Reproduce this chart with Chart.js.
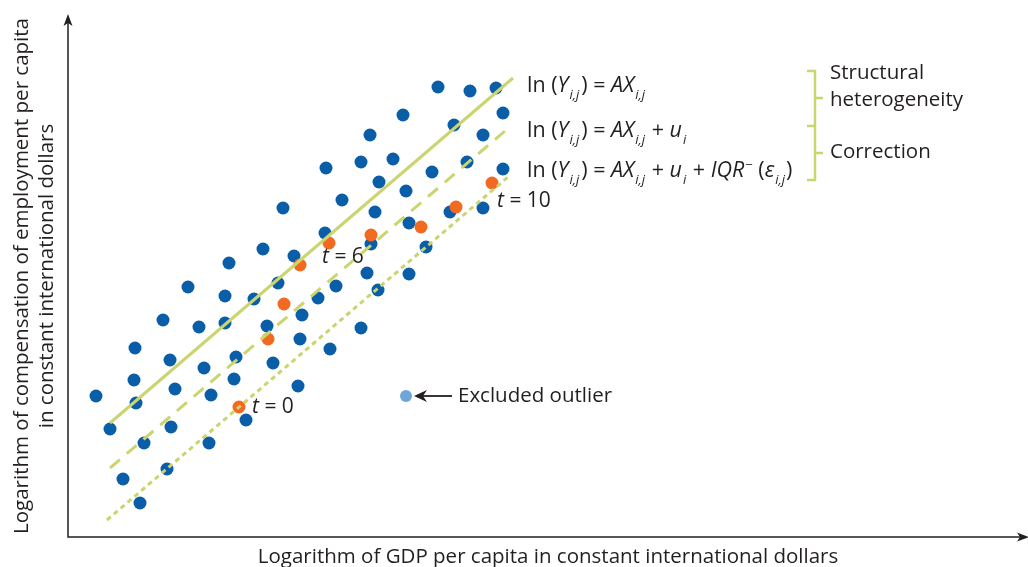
<!DOCTYPE html>
<html>
<head>
<meta charset="utf-8">
<script src="https://cdn.jsdelivr.net/npm/chart.js@4.4.1/dist/chart.umd.min.js"></script>
<style>
  html, body { margin: 0; padding: 0; background: #ffffff; }
  #wrap { width: 1028px; height: 567px; }
</style>
</head>
<body>
<div id="wrap"><canvas id="c" width="1028" height="567"></canvas></div>
<script>
// Country-year observations: log GDP per capita (x) vs log compensation of employment per capita (y)
const blueX = [2.8, 4.2, 5.5, 7.2, 6.7, 6.6, 6.8, 7.6, 9.9, 9.5, 10.2, 10.7, 10.3, 12.0, 13.1, 13.6, 14.3, 14.1,
  16.1, 15.7, 15.7, 16.8, 16.6, 17.8, 19.5, 18.6, 19.9, 20.5, 23.0, 21.5, 21.0, 22.6, 23.4, 25.0, 26.2, 25.8,
  25.7, 26.8, 27.4, 29.3, 29.3, 29.9, 30.2, 31.1, 30.7, 31.0, 32.5, 33.5, 33.8, 34.1, 35.8, 36.4, 37.0, 38.6,
  39.9, 40.2, 41.5, 41.5, 42.8, 43.5, 43.5, 30.3, 34.1, 38.2, 23.2];
const blueY = [14.1, 10.8, 5.8, 3.4, 18.9, 15.7, 13.4, 9.4, 6.8, 21.7, 17.7, 14.8, 11.0, 25.0, 21.0, 16.9, 14.2, 9.4,
  27.4, 24.1, 21.4, 18.0, 15.8, 11.7, 28.8, 23.8, 21.1, 17.4, 15.1, 32.9, 25.4, 28.1, 22.2, 23.9, 18.8, 36.9,
  30.4, 25.1, 33.7, 20.9, 37.5, 26.4, 40.2, 35.5, 32.5, 24.7, 37.8, 42.2, 34.6, 26.3, 29.0, 36.5, 45.0, 41.2,
  37.5, 44.6, 32.9, 40.2, 44.9, 42.4, 36.8, 29.3, 31.4, 32.5, 19.8];

// One economy followed over time (t = 0 ... t = 10)
const pathX = [17.1, 20.0, 21.6, 23.2, 26.1, 30.3, 35.3, 38.8, 42.4];
const pathY = [13.0, 19.8, 23.3, 27.2, 29.4, 30.2, 31.0, 33.0, 35.4];

// Observation left out of the estimation
const outlierX = [33.8];
const outlierY = [14.1];

// Fitted lines: start and end of each
const fitX = [4.2, 44.5];
const fitY = [11.4, 45.9];
const shiftX = [4.2, 43.7];
const shiftY = [6.9, 40.6];
const corrX = [3.9, 44.0];
const corrY = [1.7, 36.0];

// Text labels
const xTitle = 'Logarithm of GDP per capita in constant international dollars';
const yTitle = ['Logarithm of compensation of employment per capita', 'in constant international dollars'];
const timeLabels = ['t = 0', 't = 6', 't = 10'];
const bracketLabels = ['Structural', 'heterogeneity', 'Correction'];
const outlierLabel = 'Excluded outlier';

const pts = (xs, ys) => xs.map((x, i) => ({ x: x, y: ys[i] }));

const BLUE = '#0a5ea8';
const ORANGE = '#f26a21';
const LIGHT = '#6fa6da';
const GREEN = '#cbd56f';
const INK = '#231f20';
const FONT = '"Open Sans", "Noto Sans", sans-serif';
const TXT = 20.5;
const EQ = 21.5;

function font(size, italic) {
  return (italic ? 'italic ' : '') + size + 'px ' + FONT;
}

// Draw a run of text pieces with italics, subscripts and superscripts; y is the baseline
function drawRich(ctx, x, y, segs, size) {
  let cx = x;
  segs.forEach(s => {
    const sz = (s.sub || s.sup) ? Math.round(size * 0.6) : size;
    ctx.font = font(sz, s.i);
    let dy = 0;
    if (s.sub) dy = size * 0.34;
    if (s.sup) dy = -size * 0.38;
    cx += (s.pre || 0);
    ctx.fillText(s.t, cx, y + dy);
    cx += ctx.measureText(s.t).width + (s.gap || 0);
  });
}

const overlay = {
  id: 'overlay',
  afterDraw(chart) {
    const ctx = chart.ctx;
    const a = chart.chartArea;
    const xs = chart.scales.x, ys = chart.scales.y;
    const px = v => xs.getPixelForValue(v);
    const py = v => ys.getPixelForValue(v);
    ctx.save();

    // Axes with arrowheads
    ctx.strokeStyle = INK;
    ctx.fillStyle = INK;
    ctx.lineWidth = 1.5;
    ctx.beginPath();
    ctx.moveTo(a.left, a.top + 6);
    ctx.lineTo(a.left, a.bottom);
    ctx.lineTo(a.right - 4, a.bottom);
    ctx.stroke();
    ctx.beginPath();
    ctx.moveTo(a.left, a.top - 1);
    ctx.lineTo(a.left - 4.5, a.top + 11);
    ctx.lineTo(a.left, a.top + 8);
    ctx.lineTo(a.left + 4.5, a.top + 11);
    ctx.closePath();
    ctx.fill();
    ctx.beginPath();
    ctx.moveTo(a.right + 1, a.bottom);
    ctx.lineTo(a.right - 11, a.bottom - 4.5);
    ctx.lineTo(a.right - 8, a.bottom);
    ctx.lineTo(a.right - 11, a.bottom + 4.5);
    ctx.closePath();
    ctx.fill();

    // Axis titles
    ctx.fillStyle = INK;
    ctx.textBaseline = 'middle';
    ctx.textAlign = 'center';
    ctx.font = font(TXT);
    ctx.fillText(xTitle, 548, a.bottom + 20);
    ctx.save();
    ctx.translate(22, 276);
    ctx.rotate(-Math.PI / 2);
    ctx.fillText(yTitle[0], 0, 0);
    ctx.fillText(yTitle[1], 0, 25);
    ctx.restore();

    // Equations beside the line ends
    ctx.textAlign = 'left';
    ctx.textBaseline = 'alphabetic';
    const base = [
      { t: 'ln (' }, { t: 'Y', i: 1, gap: 1 }, { t: 'i,j', i: 1, sub: 1, gap: 2 }, { t: ') = ' },
      { t: 'AX', i: 1, gap: 1 }, { t: 'i,j', i: 1, sub: 1, gap: 1 }
    ];
    const eq2 = base.concat([{ t: ' + ' }, { t: 'u', i: 1, gap: 1 }, { t: 'i', i: 1, sub: 1, gap: 1 }]);
    const eq3 = eq2.concat([{ t: ' + ' }, { t: 'IQR', i: 1, gap: 1 }, { t: '\u2212', sup: 1 },
      { t: ' (' }, { t: '\u03b5', i: 1, gap: 1 }, { t: 'i,j', i: 1, sub: 1, gap: 1 }, { t: ')' }]);
    const eqX = px(fitX[1]) + 14;
    drawRich(ctx, eqX, 92, base, EQ);
    drawRich(ctx, eqX, 137, eq2, EQ);
    drawRich(ctx, eqX, 177, eq3, EQ);

    // Braces grouping the equations
    ctx.strokeStyle = GREEN;
    ctx.lineWidth = 2.5;
    ctx.beginPath();
    ctx.moveTo(807, 71); ctx.lineTo(815, 71); ctx.lineTo(815, 180); ctx.lineTo(807, 180);
    ctx.moveTo(807, 126); ctx.lineTo(815, 126);
    ctx.moveTo(815, 98); ctx.lineTo(823, 98);
    ctx.moveTo(815, 153); ctx.lineTo(823, 153);
    ctx.stroke();
    ctx.fillStyle = INK;
    ctx.textBaseline = 'middle';
    ctx.font = font(TXT);
    ctx.fillText(bracketLabels[0], 830, 73);
    ctx.fillText(bracketLabels[1], 830, 100);
    ctx.fillText(bracketLabels[2], 830, 152);

    // Time labels along the followed economy
    const tPos = [[18.4, 13.0], [25.4, 28.0], [42.9, 33.6]];
    timeLabels.forEach((lab, k) => {
      const parts = lab.split('t');
      let x0 = px(tPos[k][0]);
      const y0 = py(tPos[k][1]);
      ctx.font = font(21, true);
      ctx.fillText('t', x0, y0);
      x0 += ctx.measureText('t').width;
      ctx.font = font(21);
      ctx.fillText(parts[1], x0, y0);
    });

    // Outlier callout
    const ox = px(outlierX[0]) + 8, oy = py(outlierY[0]);
    ctx.strokeStyle = INK;
    ctx.fillStyle = INK;
    ctx.lineWidth = 1.8;
    ctx.beginPath();
    ctx.moveTo(ox + 8, oy); ctx.lineTo(ox + 38, oy);
    ctx.stroke();
    ctx.beginPath();
    ctx.moveTo(ox, oy);
    ctx.lineTo(ox + 13, oy - 6);
    ctx.lineTo(ox + 9, oy);
    ctx.lineTo(ox + 13, oy + 6);
    ctx.closePath();
    ctx.fill();
    ctx.font = font(TXT);
    ctx.fillText(outlierLabel, ox + 44, oy);

    ctx.restore();
  }
};

const lineDs = (xs, ys, dash) => ({
  type: 'line',
  data: pts(xs, ys),
  borderColor: GREEN,
  borderWidth: 3,
  borderDash: dash,
  pointRadius: 0,
  fill: false,
  order: 0
});

new Chart(document.getElementById('c'), {
  type: 'scatter',
  data: {
    datasets: [
      lineDs(fitX, fitY, []),
      lineDs(shiftX, shiftY, [13, 9]),
      lineDs(corrX, corrY, [5, 4]),
      { data: pts(pathX, pathY), backgroundColor: ORANGE, pointRadius: 6.5, pointBorderWidth: 0, order: 1 },
      { data: pts(outlierX, outlierY), backgroundColor: LIGHT, pointRadius: 6, pointBorderWidth: 0, order: 1 },
      { data: pts(blueX, blueY), backgroundColor: BLUE, pointRadius: 6.5, pointBorderWidth: 0, order: 2 }
    ]
  },
  options: {
    responsive: false,
    devicePixelRatio: 1,
    animation: false,
    layout: { autoPadding: false, padding: { left: 68, right: 0, top: 15, bottom: 30 } },
    plugins: { legend: { display: false }, tooltip: { enabled: false } },
    scales: {
      x: { type: 'linear', display: false, min: 0, max: 96 },
      y: { type: 'linear', display: false, min: 0, max: 52.2 }
    }
  },
  plugins: [overlay]
});
</script>
</body>
</html>
